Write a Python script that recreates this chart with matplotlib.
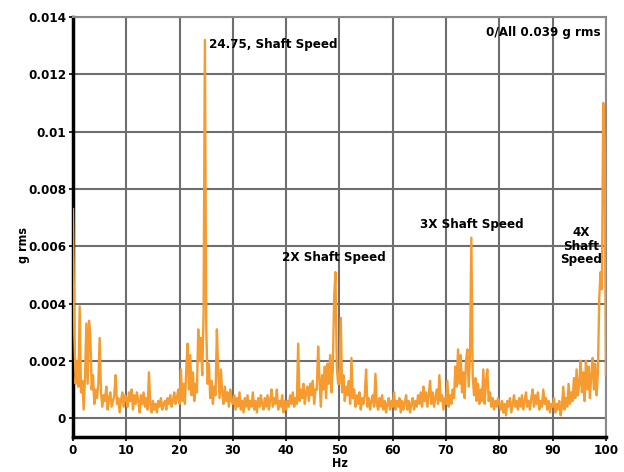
"""
Vibration spectrum plot: g rms vs frequency, with shaft speed harmonics marked.
"""
import numpy as np
import matplotlib
matplotlib.use("Agg")
import matplotlib.pyplot as plt
from matplotlib.ticker import FuncFormatter

# amplitudes in milli-g, 0.25 Hz steps, one list per 10 Hz band
band_00_10 = [7.3, 2.9, 1.2, 2.0, 1.1, 3.9, 0.9, 1.3, 0.3, 1.4,
              3.3, 1.2, 3.4, 2.9, 1.0, 1.5, 0.5, 1.0, 0.7, 1.2,
              2.8, 0.9, 0.4, 0.8, 0.6, 1.1, 0.3, 0.7, 0.9, 0.4,
              0.6, 0.8, 1.5, 0.5, 0.7, 0.2, 0.6, 0.9, 0.4, 0.8]
band_10_20 = [0.7, 0.4, 0.9, 0.6, 1.0, 0.3, 0.8, 0.5, 0.9, 0.6,
              0.2, 0.8, 0.5, 0.9, 0.4, 0.7, 0.3, 1.6, 0.5, 0.2,
              0.6, 0.3, 0.5, 0.2, 0.6, 0.4, 0.7, 0.3, 0.5, 0.6,
              0.3, 0.7, 0.5, 0.8, 0.4, 0.6, 0.9, 0.5, 0.7, 1.0]
band_20_30 = [0.5, 1.7, 0.6, 1.2, 0.5, 1.7, 2.6, 1.0, 2.2, 0.8,
              1.6, 0.6, 1.2, 0.9, 3.1, 2.0, 2.8, 1.5, 3.6, 13.2,
              3.2, 1.2, 1.9, 0.7, 1.3, 0.5, 1.1, 0.8, 3.1, 1.6,
              0.7, 1.7, 0.9, 0.5, 1.1, 0.6, 0.9, 0.4, 1.0, 0.6]
band_30_40 = [0.5, 0.8, 0.3, 0.7, 0.4, 0.9, 0.3, 0.6, 0.2, 0.7,
              0.4, 0.8, 0.3, 0.6, 0.4, 0.9, 0.3, 0.6, 0.2, 0.7,
              0.4, 0.8, 0.5, 0.3, 0.7, 0.4, 0.8, 0.3, 0.6, 1.0,
              0.4, 0.7, 0.5, 1.0, 0.3, 0.6, 0.4, 0.8, 0.2, 0.6]
band_40_50 = [0.3, 0.6, 0.4, 0.8, 0.5, 0.9, 0.4, 0.7, 0.5, 2.6,
              0.6, 1.0, 0.7, 1.2, 0.5, 0.9, 1.1, 0.6, 1.2, 0.8,
              1.3, 0.5, 1.0, 1.0, 2.5, 1.4, 0.4, 1.5, 1.0, 1.8,
              0.7, 1.9, 1.2, 2.2, 0.9, 1.7, 4.2, 5.1, 1.8, 1.2]
band_50_60 = [1.2, 3.5, 0.9, 1.5, 0.6, 1.1, 0.8, 1.3, 0.5, 2.1,
              0.7, 1.0, 0.4, 0.8, 0.5, 0.9, 0.3, 0.7, 0.5, 0.8,
              1.7, 0.4, 0.7, 0.3, 0.6, 0.8, 0.4, 1.55, 0.5, 0.3,
              0.7, 0.4, 0.8, 0.3, 0.6, 0.2, 0.5, 0.7, 0.3, 0.6]
band_60_70 = [0.4, 0.9, 0.3, 0.6, 0.4, 0.7, 0.2, 0.6, 0.3, 0.5,
              0.8, 0.3, 0.6, 0.2, 0.5, 0.7, 0.3, 0.6, 0.4, 0.8,
              0.5, 0.9, 0.4, 1.1, 0.6, 0.9, 0.4, 0.8, 1.3, 0.5,
              0.9, 0.4, 0.7, 1.0, 0.5, 1.5, 0.6, 0.8, 0.3, 0.7]
band_70_80 = [0.5, 1.3, 0.4, 0.8, 0.5, 1.0, 0.7, 1.8, 1.1, 2.4,
              1.2, 2.2, 0.9, 1.6, 0.7, 2.0, 2.4, 1.1, 2.2, 6.3,
              1.5, 0.8, 1.4, 0.6, 1.2, 0.5, 1.0, 0.6, 1.7, 0.5,
              1.3, 1.7, 0.6, 0.9, 0.4, 0.7, 0.3, 0.6, 0.4, 0.7]
band_80_90 = [0.5, 0.3, 0.6, 0.2, 0.5, 0.1, 0.6, 0.4, 0.7, 0.2,
              0.5, 0.8, 0.4, 0.6, 0.3, 0.7, 0.4, 0.8, 0.3, 0.6,
              0.9, 0.4, 0.6, 0.3, 0.7, 1.0, 0.4, 0.8, 0.5, 0.9,
              0.3, 0.6, 0.4, 1.0, 0.5, 0.7, 0.3, 0.6, 0.2, 0.5]
band_90_100 = [0.4, 0.7, 0.2, 0.5, 0.3, 0.6, 0.1, 0.4, 1.1, 0.3,
               0.7, 0.4, 1.2, 0.5, 0.9, 0.6, 1.4, 0.7, 1.7, 0.8,
               1.2, 2.0, 0.9, 1.6, 0.6, 2.0, 1.0, 1.8, 0.7, 1.5,
               2.1, 1.0, 1.9, 0.8, 1.6, 4.2, 5.1, 4.5, 11.0, 9.5,
               1.5]

freq_step = 0.25
y_ticks = [0, 0.002, 0.004, 0.006, 0.008, 0.01, 0.012, 0.014]
x_ticks = [0, 10, 20, 30, 40, 50, 60, 70, 80, 90, 100]

amp_mg = (band_00_10 + band_10_20 + band_20_30 + band_30_40 + band_40_50
          + band_50_60 + band_60_70 + band_70_80 + band_80_90 + band_90_100)
amp = np.array(amp_mg) / 1000.0
freq = np.arange(len(amp)) * freq_step

plt.rcParams['font.family'] = ['DejaVu Sans']
plt.rcParams['font.stretch'] = 'condensed'
plt.rcParams['font.weight'] = 'bold'

fig = plt.figure(figsize=(6.24, 4.72), dpi=100)
ax = fig.add_axes([0.117, 0.074, 0.854, 0.89])

ax.plot(freq, amp, color='#F59B2F', linewidth=1.7, zorder=3)

ax.set_xlim(0, 100)
ax.set_ylim(-0.00066, 0.014)
ax.set_xticks(x_ticks)
ax.set_yticks(y_ticks)
ax.yaxis.set_major_formatter(FuncFormatter(lambda v, p: '%g' % v))
ax.tick_params(axis='both', labelsize=9.5, length=3, width=1.2, pad=2)
for lab in ax.get_xticklabels() + ax.get_yticklabels():
    lab.set_fontweight('bold')

ax.grid(True, color='#6e6e6e', linewidth=1.5, zorder=0)
ax.set_axisbelow(True)
for side in ['top', 'right']:
    ax.spines[side].set_color('#8a8a8a')
    ax.spines[side].set_linewidth(1.5)
for side in ['left', 'bottom']:
    ax.spines[side].set_color('black')
    ax.spines[side].set_linewidth(2.5)

ax.set_xlabel('Hz', fontsize=9, fontweight='bold', labelpad=0)
ax.set_ylabel('g rms', fontsize=9, fontweight='bold')
ax.yaxis.set_label_coords(-0.081, 0.457)

# annotations
ax.text(25.6, 0.01305, '24.75, Shaft Speed', fontsize=9.5, fontweight='bold',
        ha='left', va='center')
ax.text(99.0, 0.01345, '0/All 0.039 g rms', fontsize=9.5, fontweight='bold',
        ha='right', va='center')
ax.text(49.0, 0.0056, '2X Shaft Speed', fontsize=9.5, fontweight='bold',
        ha='center', va='center')
ax.text(74.9, 0.00677, '3X Shaft Speed', fontsize=9.5, fontweight='bold',
        ha='center', va='center')
ax.text(95.3, 0.0060, '4X\nShaft\nSpeed', fontsize=9.5, fontweight='bold',
        ha='center', va='center', linespacing=1.05)

fig.savefig('out.png', dpi=100)
